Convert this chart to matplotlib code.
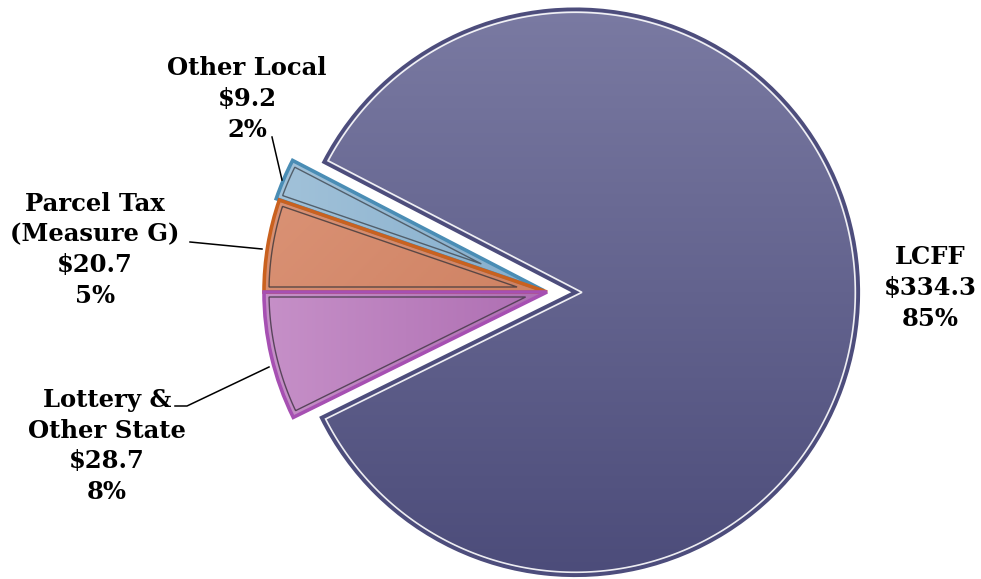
import numpy as np
import matplotlib
matplotlib.use("Agg")
import matplotlib.pyplot as plt
from matplotlib.patches import Wedge, Polygon
from matplotlib.colors import LinearSegmentedColormap

# ---- data ----
categories = ["LCFF", "Other Local", "Parcel Tax\n(Measure G)", "Lottery &\nOther State"]
values = [334.3, 9.2, 20.7, 28.7]
value_labels = ["$334.3", "$9.2", "$20.7", "$28.7"]
pct_labels = ["85%", "2%", "5%", "8%"]

# ---- style ----
explode = [0.1, 0.012, 0.0, 0.0]
grad_colors = [("#7a7aa2", "#4c4c7a"), ("#a3c3da", "#6798bd"),
               ("#e09a7e", "#bd6a48"), ("#c690c8", "#964c9c")]
grad_dirs = ["v", "h", "d", "h"]
border_colors = ["#4d4d7c", "#4a8db5", "#c9611f", "#a650b2"]
inner_colors = ["white", "#4a5560", "#4d4040", "#4d3d50"]
inner_widths = [1.2, 1.0, 1.0, 1.0]
inset_px = [3.0, 5.0, 5.0, 5.0]

W, H = 981, 579
CX, CY, R = 547, 292, 283  # pixel centre / radius


def px(x, y):
    return ((x - CX) / R, (CY - y) / R)


fig = plt.figure(figsize=(W / 100, H / 100), dpi=100)
ax = fig.add_axes([0, 0, 1, 1])

total = sum(values)
start = 180 + 360 * values[-1] / total
wedges, _ = ax.pie(values, startangle=start, counterclock=True, explode=explode,
                   colors=[c[1] for c in grad_colors],
                   wedgeprops=dict(linewidth=0, zorder=1))

ax.set_xlim((0 - CX) / R, (W - CX) / R)
ax.set_ylim((CY - H) / R, CY / R)
ax.set_aspect("equal")
ax.axis("off")

n = 256
for w, (c1, c2), d, bc, ic, iw, ins in zip(wedges, grad_colors, grad_dirs, border_colors,
                                           inner_colors, inner_widths, inset_px):
    cmap = LinearSegmentedColormap.from_list("g", [c1, c2])
    yy, xx = np.mgrid[0:1:n * 1j, 0:1:n * 1j]
    if d == "v":
        g = yy
    elif d == "h":
        g = xx
    else:
        g = (xx + yy) / 2
    cx, cy = w.center
    r = w.r
    im = ax.imshow(g, cmap=cmap, extent=(cx - r, cx + r, cy - r, cy + r),
                   origin="upper", zorder=2, interpolation="bilinear")
    im.set_clip_path(w)
    # outer border
    ax.add_patch(Wedge(w.center, r, w.theta1, w.theta2, facecolor="none",
                       edgecolor=bc, linewidth=2.6, zorder=3, joinstyle="miter"))
    # inner inset outline
    a = np.deg2rad((w.theta2 - w.theta1) / 2)
    mid = np.deg2rad((w.theta1 + w.theta2) / 2)
    dd = ins / R
    shift = dd / np.sin(a)
    ax0 = cx + shift * np.cos(mid)
    ay0 = cy + shift * np.sin(mid)
    ri = r - dd
    delta = np.arcsin(dd / ri)
    th = np.linspace(np.deg2rad(w.theta1) + delta, np.deg2rad(w.theta2) - delta, 300)
    pts = [(ax0, ay0)] + list(zip(cx + ri * np.cos(th), cy + ri * np.sin(th)))
    ax.add_patch(Polygon(pts, closed=True, facecolor="none", edgecolor=ic,
                         linewidth=iw, alpha=0.9, zorder=4, joinstyle="miter"))

# ---- labels ----
font = dict(family="DejaVu Serif", fontweight="bold", fontsize=17.5, color="black",
            ha="center", va="center", linespacing=1.36, zorder=6)
label_pos = [(930, 288), (247, 99), (95, 250), (107, 446)]
for cat, v, p, (lx, ly) in zip(categories, value_labels, pct_labels, label_pos):
    ax.text(*px(lx, ly), f"{cat}\n{v}\n{p}", **font)

# leader lines
leaders = [
    [(272, 137), (282, 180)],
    [(190, 242), (262, 249)],
    [(175, 406), (187, 406), (269, 367)],
]
for pts in leaders:
    xs, ys = zip(*[px(x, y) for x, y in pts])
    ax.plot(xs, ys, color="black", linewidth=1.1, zorder=5)

fig.savefig("out.png", dpi=100)
